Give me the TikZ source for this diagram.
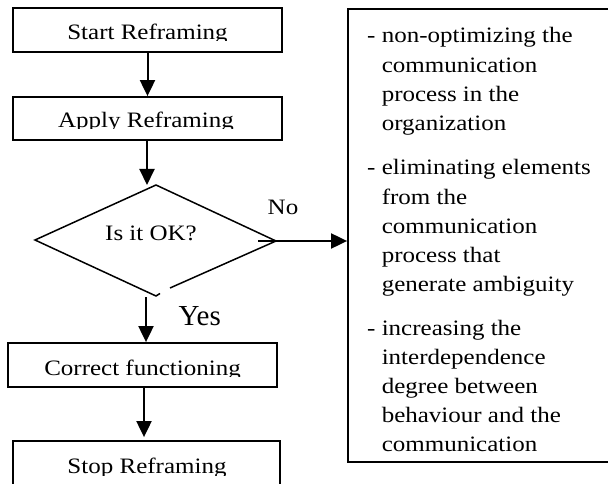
\documentclass[tikz,border=0pt]{standalone}
\usepackage{fontspec}
\setmainfont{Liberation Serif}
\usepackage{graphicx}
\usetikzlibrary{arrows.meta}
\newcommand\vsq[1]{\scalebox{1}[0.88]{#1}}
\tikzset{
  box/.style={draw, line width=1.8pt, inner sep=0pt},
  lbl/.style={inner sep=0pt, font=\fontsize{25}{33}\selectfont},
  arr/.style={line width=2pt, -{Triangle[length=16pt,width=15pt]}},
  dia/.style={line width=1.5pt, line join=miter}
}
\begin{document}
\begin{tikzpicture}[x=1pt,y=-1pt]
\useasboundingbox (0,0) rectangle (608,484);

% boxes
\node[box, minimum width=269pt, minimum height=44pt] (s1) at (147.5,30) {};
\node[box, minimum width=269pt, minimum height=43pt] (s2) at (147.5,118.5) {};
\node[box, minimum width=269pt, minimum height=44pt] (s3) at (142.5,365) {};
\node[box, minimum width=267pt, minimum height=70pt] (s4) at (146.5,476) {};
\node[box, minimum width=310pt, minimum height=453pt] (list) at (503,235.5) {};

% clipped box texts
\begin{scope}
\clip (0,0) rectangle (300,40.5);
\node[lbl, anchor=base] (t1) at (147.5,39.5) {\vsq{Start Reframing}};
\end{scope}
\begin{scope}
\clip (0,90) rectangle (300,128.8);
\node[lbl, anchor=base] (t2) at (146,127.8) {\vsq{Apply Reframing}};
\end{scope}
\begin{scope}
\clip (0,345) rectangle (300,376.7);
\node[lbl, anchor=base] (t3) at (142.5,375) {\vsq{Correct functioning}};
\end{scope}
\begin{scope}
\clip (0,445) rectangle (300,475);
\node[lbl, anchor=base] (t4) at (147,473) {\vsq{Stop Reframing}};
\end{scope}

% decision
\coordinate (dtop) at (156,185);
\coordinate (dleft) at (35,240);
\coordinate (dright) at (276,241);
\coordinate (dbot) at (156,296);
\coordinate (dhook) at (160,293.5);
\coordinate (dgap) at (170,288);
\draw[dia] (dgap) -- (dright) -- (dtop) -- (dleft) -- (dbot) -- (dhook);
\node[lbl, anchor=base] (ok) at (151,240) {\vsq{Is it OK?}};

% labels
\node[lbl, anchor=base west] (no) at (267.5,214.5) {\vsq{No}};
\node[inner sep=0pt, anchor=base west, font=\fontsize{29}{33}\selectfont] (yes) at (178.5,325) {Yes};

% list text
\node[lbl, anchor=base west] (i1) at (367,43) {\vsq{\begin{tabular}[t]{@{}l@{}}
- non-optimizing the\\
\phantom{- }communication\\
\phantom{- }process in the\\
\phantom{- }organization
\end{tabular}}};
\node[lbl, anchor=base west] (i2) at (367,175) {\vsq{\begin{tabular}[t]{@{}l@{}}
- eliminating elements\\
\phantom{- }from the\\
\phantom{- }communication\\
\phantom{- }process that\\
\phantom{- }generate ambiguity
\end{tabular}}};
\node[lbl, anchor=base west] (i3) at (367,335) {\vsq{\begin{tabular}[t]{@{}l@{}}
- increasing the\\
\phantom{- }interdependence\\
\phantom{- }degree between\\
\phantom{- }behaviour and the\\
\phantom{- }communication
\end{tabular}}};

% connectors
\draw[arr] (s1.south) -- (s2.north);
\coordinate (a2end) at (147,185);
\draw[arr] (s2.south -| a2end) -- (a2end);
\coordinate (ybeg) at (146,297);
\draw[arr] (ybeg) -- (ybeg |- s3.north);
\coordinate (cbeg) at (144,387);
\draw[arr, shorten >=3pt] (cbeg) -- (cbeg |- s4.north);
\coordinate (nbeg) at (258,241);
\draw[arr] (nbeg) -- (nbeg -| list.west);
\end{tikzpicture}
\end{document}
